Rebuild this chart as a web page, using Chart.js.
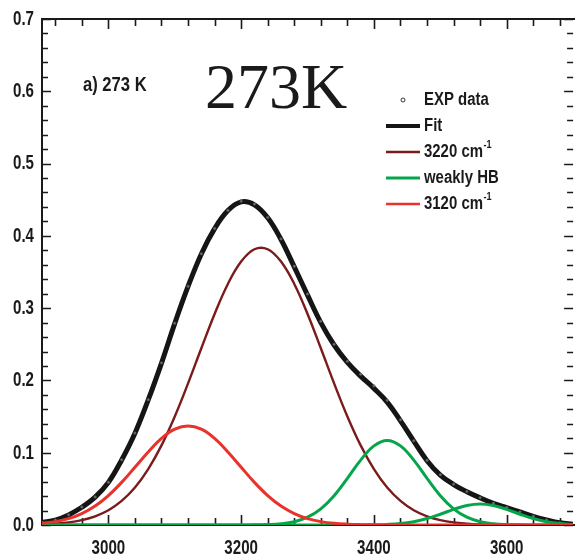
<!DOCTYPE html>
<html>
<head>
<meta charset="utf-8">
<title>273K fit</title>
<script src="https://cdn.jsdelivr.net/npm/chart.js@4"></script>
<style>
  html, body { margin: 0; padding: 0; background: #fff; }
  #wrap { width: 575px; height: 560px; position: relative; }
</style>
</head>
<body>
<div id="wrap"><canvas id="chart"></canvas></div>
<script>
// Wavenumber grid (cm-1) and the curves at each step
const WAVENUMBER = [
  2900, 2920, 2940, 2960, 2980, 3000, 3020, 3040, 3060, 3080,
  3100, 3120, 3140, 3160, 3180, 3200, 3220, 3240, 3260, 3280,
  3300, 3320, 3340, 3360, 3380, 3400, 3420, 3440, 3460, 3480,
  3500, 3520, 3540, 3560, 3580, 3600, 3620, 3640, 3660, 3680,
  3700,
];

const EXP_DATA = [
  0.0036, 0.0070, 0.0142, 0.0248, 0.0388, 0.0592, 0.0902, 0.1272, 0.1733, 0.2243,
  0.2792, 0.3302, 0.3752, 0.4102, 0.4352, 0.4480, 0.4440, 0.4255, 0.3958, 0.3580,
  0.3195, 0.2820, 0.2500, 0.2265, 0.2085, 0.1925, 0.1725, 0.1455, 0.1165, 0.0895,
  0.0695, 0.0565, 0.0462, 0.0377, 0.0302, 0.0242, 0.0182, 0.0122, 0.0071, 0.0031,
  0.0010,
];

const FIT = [
  0.0035, 0.0068, 0.0140, 0.0245, 0.0385, 0.0590, 0.0900, 0.1270, 0.1730, 0.2240,
  0.2790, 0.3300, 0.3750, 0.4100, 0.4350, 0.4470, 0.4430, 0.4250, 0.3950, 0.3570,
  0.3180, 0.2800, 0.2490, 0.2250, 0.2060, 0.1890, 0.1700, 0.1440, 0.1160, 0.0890,
  0.0690, 0.0560, 0.0460, 0.0375, 0.0300, 0.0240, 0.0180, 0.0120, 0.0070, 0.0030,
  0.0010,
];

const BAND_3220 = [
  0.0009, 0.0019, 0.0036, 0.0068, 0.0120, 0.0204, 0.0333, 0.0518, 0.0773, 0.1101,
  0.1502, 0.1959, 0.2445, 0.2920, 0.3335, 0.3644, 0.3815, 0.3815, 0.3644, 0.3335,
  0.2920, 0.2445, 0.1959, 0.1502, 0.1101, 0.0773, 0.0518, 0.0333, 0.0204, 0.0120,
  0.0068, 0.0036, 0.0019, 0.0009, 0.0004, 0.0002, 0.0001, 0, 0, 0,
  0,
];

const WEAK_HB_A = [
  0, 0, 0, 0, 0, 0, 0, 0, 0, 0,
  0, 0, 0, 0, 0, 0, 0.0002, 0.0006, 0.0017, 0.0046,
  0.0108, 0.0224, 0.0406, 0.0645, 0.0898, 0.1095, 0.1170, 0.1095, 0.0898, 0.0645,
  0.0406, 0.0224, 0.0108, 0.0046, 0.0017, 0.0006, 0.0002, 0, 0, 0,
  0,
];

const WEAK_HB_B = [
  0, 0, 0, 0, 0, 0, 0, 0, 0, 0,
  0, 0, 0, 0, 0, 0, 0, 0, 0, 0,
  0, 0, 0, 0, 0.0001, 0.0003, 0.0008, 0.0020, 0.0046, 0.0089,
  0.0149, 0.0216, 0.0269, 0.0290, 0.0269, 0.0216, 0.0149, 0.0089, 0.0046, 0.0020,
  0.0008,
];

const BAND_3120 = [
  0.0023, 0.0047, 0.0089, 0.0158, 0.0262, 0.0407, 0.0590, 0.0799, 0.1011, 0.1197,
  0.1325, 0.1370, 0.1325, 0.1197, 0.1011, 0.0799, 0.0590, 0.0407, 0.0262, 0.0158,
  0.0089, 0.0047, 0.0023, 0.0011, 0.0005, 0.0002, 0.0001, 0, 0, 0,
  0, 0, 0, 0, 0, 0, 0, 0, 0, 0,
  0,
];

const X_TICKS = [3000, 3200, 3400, 3600];
const Y_TICKS = [0, 0.1, 0.2, 0.3, 0.4, 0.5, 0.6, 0.7];

const SANS = "'Liberation Sans', Arial, sans-serif";
const INK = '#1a1a1a';

const toPoints = (ys) => WAVENUMBER.map((x, i) => ({ x, y: ys[i] }));

// Arial Narrow look-alike: squeeze Liberation Sans horizontally
function narrowText(ctx, text, x, y, size, align, squeeze) {
  ctx.save();
  ctx.font = `bold ${size}px ${SANS}`;
  ctx.textAlign = align;
  ctx.translate(x, y);
  ctx.scale(squeeze, 1);
  ctx.fillText(text, 0, 0);
  const w = ctx.measureText(text).width * squeeze;
  ctx.restore();
  return w;
}

// frame + inward ticks, drawn under the curves (no right border: it sits off the page)
const frameTicks = {
  id: 'frameTicks',
  beforeDatasetsDraw(chart) {
    const { ctx, chartArea: a, scales: { x, y } } = chart;
    ctx.save();
    ctx.strokeStyle = INK;
    ctx.lineWidth = 2;
    ctx.beginPath();
    ctx.moveTo(a.right + 2, a.top);
    ctx.lineTo(a.left, a.top);
    ctx.lineTo(a.left, a.bottom);
    ctx.lineTo(a.right + 2, a.bottom);
    ctx.stroke();
    ctx.lineWidth = 1.6;
    ctx.beginPath();
    x.ticks.forEach((t) => {
      const px = Math.round(x.getPixelForValue(t.value)) + 0.5;
      const len = X_TICKS.includes(t.value) ? 10 : 7;
      ctx.moveTo(px, a.bottom); ctx.lineTo(px, a.bottom - len);
      ctx.moveTo(px, a.top); ctx.lineTo(px, a.top + len);
    });
    y.ticks.forEach((t) => {
      const py = Math.round(y.getPixelForValue(t.value)) + 0.5;
      const len = Y_TICKS.includes(t.value) ? 9 : 6;
      ctx.moveTo(a.left, py); ctx.lineTo(a.left + len, py);
      ctx.moveTo(a.right, py); ctx.lineTo(a.right - len, py);
    });
    ctx.stroke();
    ctx.restore();
  },
};

// tick labels, panel labels and legend
const annotations = {
  id: 'annotations',
  afterDraw(chart) {
    const { ctx, scales: { x, y } } = chart;
    ctx.save();
    ctx.fillStyle = INK;
    ctx.textBaseline = 'middle';
    Y_TICKS.forEach((v) => narrowText(ctx, v.toFixed(1), 34, y.getPixelForValue(v), 21, 'right', 0.72));
    X_TICKS.forEach((v) => narrowText(ctx, String(v), x.getPixelForValue(v), 548, 21, 'center', 0.72));

    ctx.textBaseline = 'alphabetic';
    narrowText(ctx, 'a) 273 K', 83, 91, 20, 'left', 0.83);
    ctx.font = "64px 'Liberation Serif', 'Times New Roman', serif";
    ctx.textAlign = 'left';
    ctx.fillText('273K', 205, 108);

    // legend
    const rows = chart.data.datasets.filter((d) => d.legend);
    ctx.textBaseline = 'middle';
    rows.forEach((d, i) => {
      const cy = 100 + i * 26;
      if (d.showLine === false) {
        ctx.beginPath();
        ctx.lineWidth = 1;
        ctx.strokeStyle = '#333';
        ctx.arc(403, cy, 2, 0, Math.PI * 2);
        ctx.stroke();
      } else {
        ctx.beginPath();
        ctx.lineWidth = d.legendWidth;
        ctx.strokeStyle = d.borderColor;
        ctx.moveTo(386, cy);
        ctx.lineTo(420, cy);
        ctx.stroke();
      }
      ctx.fillStyle = INK;
      const sup = d.label.endsWith('⁻¹');
      const base = sup ? d.label.slice(0, -2) : d.label;
      const w = narrowText(ctx, base, 424, cy, 18, 'left', 0.83);
      if (sup) narrowText(ctx, '-1', 424 + w + 0.5, cy - 7, 11, 'left', 0.83);
    });
    ctx.restore();
  },
};

new Chart(document.getElementById('chart'), {
  type: 'line',
  data: {
    datasets: [
      {
        label: 'EXP data', data: toPoints(EXP_DATA), showLine: false, legend: true,
        pointRadius: 1.2, pointBorderWidth: 0.7, pointBorderColor: '#555',
        pointBackgroundColor: 'rgba(255,255,255,0.4)', order: 5,
      },
      {
        label: 'Fit', data: toPoints(FIT), borderColor: '#151515', borderWidth: 5,
        legend: true, legendWidth: 4, order: 6,
      },
      {
        label: '3220 cm⁻¹', data: toPoints(BAND_3220), borderColor: '#7a1c1c', borderWidth: 2.4,
        legend: true, legendWidth: 2.6, order: 4,
      },
      {
        label: 'weakly HB', data: toPoints(WEAK_HB_A), borderColor: '#05a64b', borderWidth: 3,
        legend: true, legendWidth: 3, order: 3,
      },
      {
        label: 'weakly HB (2)', data: toPoints(WEAK_HB_B), borderColor: '#05a64b', borderWidth: 3,
        legend: false, order: 2,
      },
      {
        label: '3120 cm⁻¹', data: toPoints(BAND_3120), borderColor: '#e8322b', borderWidth: 3,
        legend: true, legendWidth: 2.6, order: 1,
      },
    ],
  },
  options: {
    responsive: true,
    maintainAspectRatio: false,
    animation: false,
    layout: { padding: { top: 19, right: 0, left: 0, bottom: 0 } },
    elements: {
      point: { radius: 0, hoverRadius: 0 },
      line: { tension: 0.4, fill: false },
    },
    plugins: {
      legend: { display: false },
      tooltip: { enabled: false },
    },
    scales: {
      x: {
        type: 'linear',
        min: 2900,
        max: 3700,
        grid: { display: false },
        border: { display: false },
        afterBuildTicks: (scale) => {
          const ticks = [];
          for (let v = 2920; v <= 3680; v += 40) ticks.push({ value: v });
          scale.ticks = ticks;
        },
        afterFit: (scale) => { scale.height = 35; },
        ticks: { display: false },
      },
      y: {
        min: 0,
        max: 0.7,
        grid: { display: false },
        border: { display: false },
        afterBuildTicks: (scale) => {
          const ticks = [];
          for (let i = 0; i <= 35; i++) ticks.push({ value: Number((i * 0.02).toFixed(2)) });
          scale.ticks = ticks;
        },
        afterFit: (scale) => { scale.width = 42; },
        ticks: { display: false },
      },
    },
  },
  plugins: [frameTicks, annotations],
});
</script>
</body>
</html>
